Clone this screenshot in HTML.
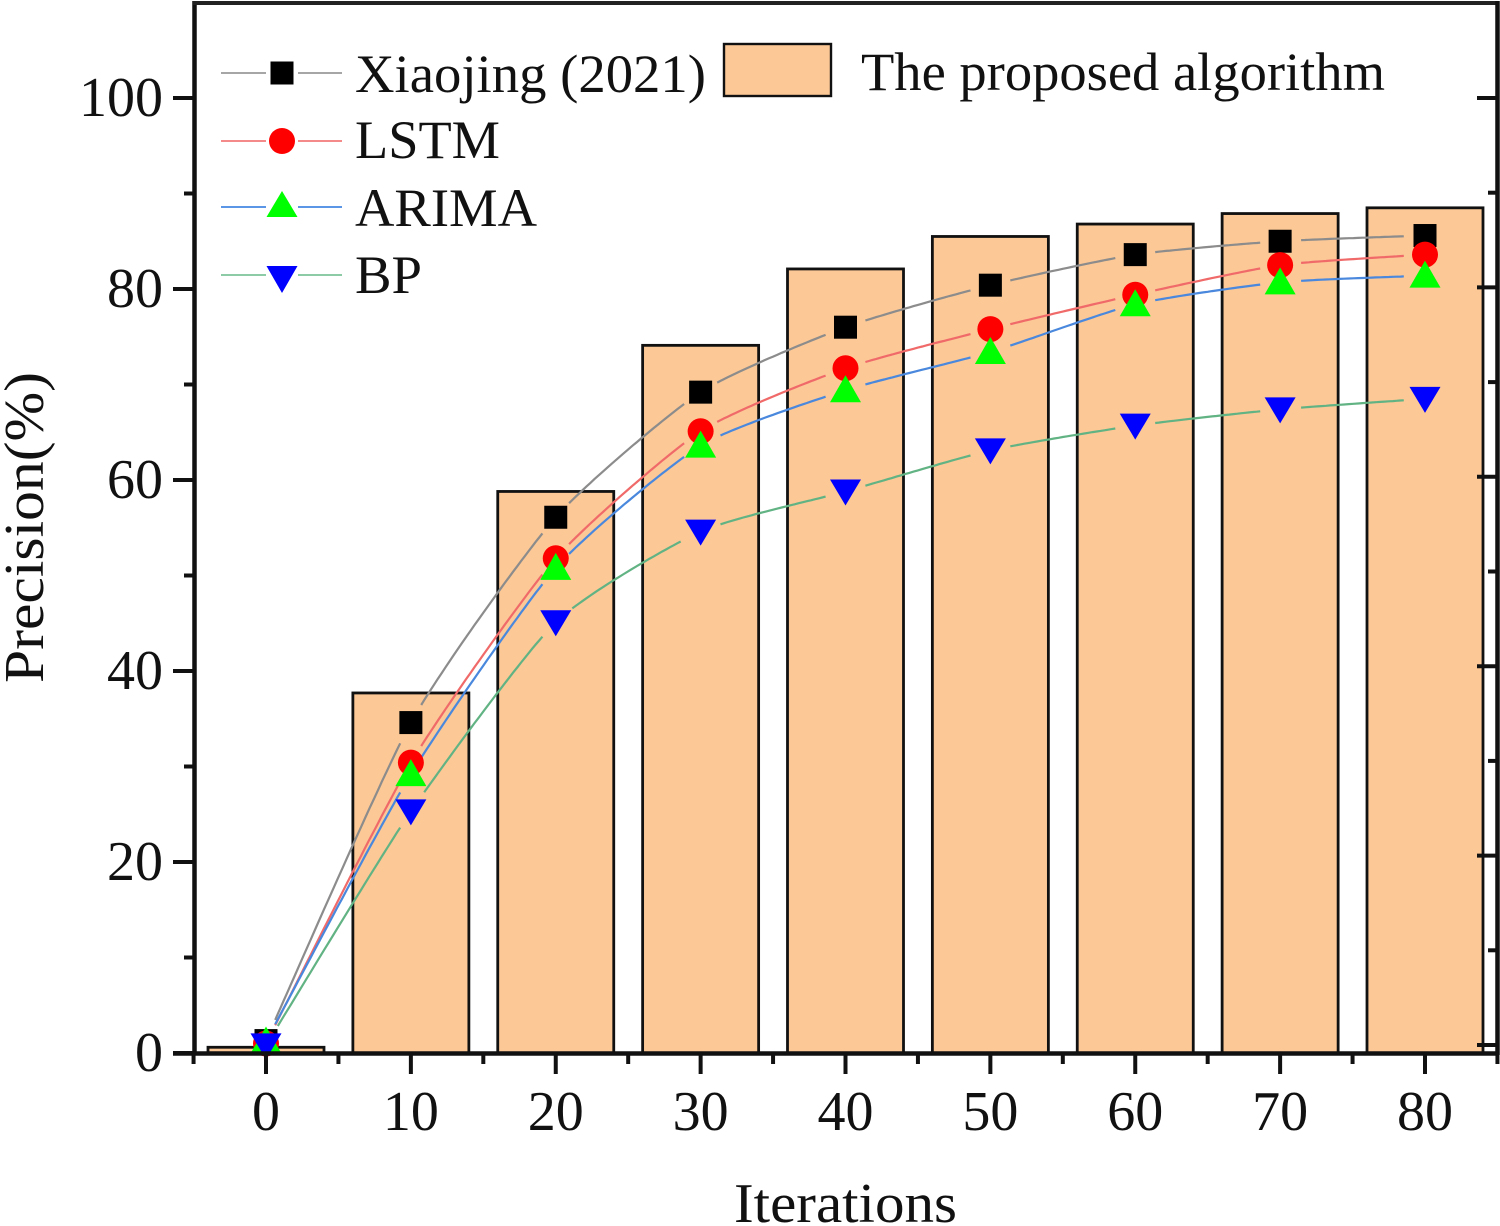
<!DOCTYPE html>
<html lang="en">
<head>
<meta charset="utf-8">
<title>Precision vs Iterations</title>
<style>
html,body{margin:0;padding:0;background:#fff;}
svg{display:block;}
text{font-family:"Liberation Serif","Times New Roman",serif;fill:#111;}
</style>
</head>
<body>
<svg id="chart" xmlns="http://www.w3.org/2000/svg" width="1500" height="1226" viewBox="0 0 1500 1226">
  <g id="bars"></g>
  <g id="lines"></g>
  <g id="markers"></g>
  <g id="axes"></g>
  <text x="734" y="1222" font-size="56" textLength="223" lengthAdjust="spacingAndGlyphs">Iterations</text>
  <text transform="translate(43,683) rotate(-90)" font-size="56" textLength="311" lengthAdjust="spacingAndGlyphs">Precision(%)</text>
  <g>
    <g>
      <path d="M221 73H266M298 73H342" stroke="#a6a6a6" stroke-width="2" fill="none"/>
      <rect x="270.500" y="61.500" width="23" height="23" fill="#000"/>
      <text x="355" y="92" font-size="54" textLength="351" lengthAdjust="spacingAndGlyphs">Xiaojing (2021)</text>
    </g>
    <g>
      <path d="M221 141H266M298 141H342" stroke="#f58a8a" stroke-width="2" fill="none"/>
      <circle cx="282" cy="141" r="13" fill="#ff0000"/>
      <text x="355" y="158" font-size="54" textLength="145" lengthAdjust="spacingAndGlyphs">LSTM</text>
    </g>
    <g>
      <path d="M221 207H266M298 207H342" stroke="#5b96e6" stroke-width="2" fill="none"/>
      <polygon points="282,191 297.500,217 266.500,217" fill="#00ff00"/>
      <text x="355" y="226" font-size="54" textLength="182" lengthAdjust="spacingAndGlyphs">ARIMA</text>
    </g>
    <g>
      <path d="M221 275H266M298 275H342" stroke="#8ccba6" stroke-width="2" fill="none"/>
      <polygon points="266.500,266 297.500,266 282,293" fill="#0000ff"/>
      <text x="355" y="293" font-size="54" textLength="67" lengthAdjust="spacingAndGlyphs">BP</text>
    </g>
    <g>
      <rect x="724" y="44" width="107" height="52" fill="#fcc896" stroke="#111" stroke-width="2.400"/>
      <text x="861" y="90" font-size="54" textLength="524" lengthAdjust="spacingAndGlyphs">The proposed algorithm</text>
    </g>
  </g>
</svg>
<script>
var iterations = [0, 10, 20, 30, 40, 50, 60, 70, 80];
var proposedValues = [0.6, 37.7, 58.8, 74.1, 82.1, 85.5, 86.8, 87.9, 88.5];
var xiaojingValues = [1.3, 34.6, 56.1, 69.2, 76.0, 80.4, 83.6, 85.0, 85.6];
var lstmValues = [1.0, 30.4, 51.8, 65.1, 71.7, 75.8, 79.4, 82.5, 83.6];
var arimaValues = [1.2, 29.2, 50.8, 63.6, 69.4, 73.4, 78.4, 80.7, 81.4];
var bpValues = [0.8, 25.3, 45.1, 54.6, 58.8, 63.1, 65.7, 67.4, 68.5];
var yMajorTicks = [0, 20, 40, 60, 80, 100];
var yMinorTicks = [10, 30, 50, 70, 90];
var xMajorTicks = [0, 10, 20, 30, 40, 50, 60, 70, 80];
var xMinorTicks = [-5, 5, 15, 25, 35, 45, 55, 65, 75, 85];
var rightMajorTicks = [0, 20, 40, 60, 80, 100];
var rightMinorTicks = [10, 30, 50, 70, 90];

var NS = 'http://www.w3.org/2000/svg';
function xScale(v) { return 266 + v * 14.4875; }
function yScale(v) { return 1053 - v * 9.55; }
function rightScale(v) { return 1045 - v * 9.47; }
function make(tag, parent, attrs) {
  var el = document.createElementNS(NS, tag);
  for (var k in attrs) { el.setAttribute(k, attrs[k]); }
  parent.appendChild(el);
  return el;
}

var barsG = document.getElementById('bars');
iterations.forEach(function (it, i) {
  var top = yScale(proposedValues[i]);
  var bar = make('rect', barsG, { x: xScale(it) - 58, y: top, width: 116, height: 1053 - top, fill: '#fcc896', stroke: '#111', 'stroke-width': 2.8 });
  
  
});

function splineSegments(pts) {
  var segs = [];
  for (var i = 0; i < pts.length - 1; i++) {
    var p0 = pts[Math.max(i - 1, 0)], p1 = pts[i], p2 = pts[i + 1], p3 = pts[Math.min(i + 2, pts.length - 1)];
    var c1 = [p1[0] + (p2[0] - p0[0]) / 10, p1[1] + (p2[1] - p0[1]) / 10];
    var c2 = [p2[0] - (p3[0] - p1[0]) / 10, p2[1] - (p3[1] - p1[1]) / 10];
    var seg = [];
    for (var s = 0; s <= 40; s++) {
      var t = s / 40, u = 1 - t;
      var x = u*u*u*p1[0] + 3*u*u*t*c1[0] + 3*u*t*t*c2[0] + t*t*t*p2[0];
      var y = u*u*u*p1[1] + 3*u*u*t*c1[1] + 3*u*t*t*c2[1] + t*t*t*p2[1];
      if (Math.hypot(x - p1[0], y - p1[1]) > 19 && Math.hypot(x - p2[0], y - p2[1]) > 19) {
        seg.push(x.toFixed(1) + ' ' + y.toFixed(1));
      }
    }
    if (seg.length > 1) { segs.push('M' + seg.join('L')); }
  }
  return segs.join('');
}

var linesG = document.getElementById('lines');
var markersG = document.getElementById('markers');
function drawLine(values, color) {
  var pts = iterations.map(function (it, i) { return [xScale(it), yScale(values[i])]; });
  return make('path', linesG, { d: splineSegments(pts), fill: 'none', stroke: color, 'stroke-width': 2.2 });
}

var xiaojingLine = drawLine(xiaojingValues, '#8c8c8c');


var lstmLine = drawLine(lstmValues, '#f06a6a');


var arimaLine = drawLine(arimaValues, '#4a88dd');


var bpLine = drawLine(bpValues, '#62b384');



iterations.forEach(function (it, i) {
  var x = xScale(it), y = yScale(xiaojingValues[i]);
  var m = make('rect', markersG, { x: x - 11.5, y: y - 11.5, width: 23, height: 23, fill: '#000' });
  
  
});
iterations.forEach(function (it, i) {
  var m = make('circle', markersG, { cx: xScale(it), cy: yScale(lstmValues[i]), r: 13, fill: '#ff0000' });
  
  
});
iterations.forEach(function (it, i) {
  var x = xScale(it), y = yScale(arimaValues[i]);
  var m = make('polygon', markersG, { points: x + ',' + (y - 15) + ' ' + (x + 15.5) + ',' + (y + 12) + ' ' + (x - 15.5) + ',' + (y + 12), fill: '#00ff00' });
  
  
});
iterations.forEach(function (it, i) {
  var x = xScale(it), y = yScale(bpValues[i]);
  var m = make('polygon', markersG, { points: (x - 15.5) + ',' + (y - 12) + ' ' + (x + 15.5) + ',' + (y - 12) + ' ' + x + ',' + (y + 14), fill: '#0000ff' });
  
  
});

var axesG = document.getElementById('axes');
var leftSpine = make('line', axesG, { x1: 194.5, y1: 1, x2: 194.5, y2: 1055, stroke: '#111', 'stroke-width': 4.5 });


var bottomSpine = make('line', axesG, { x1: 173, y1: 1053.5, x2: 1499, y2: 1053.5, stroke: '#111', 'stroke-width': 4.5 });


var topSpine = make('line', axesG, { x1: 193, y1: 3, x2: 1499, y2: 3, stroke: '#222', 'stroke-width': 4 });


var rightSpine = make('line', axesG, { x1: 1497.5, y1: 1, x2: 1497.5, y2: 1055, stroke: '#111', 'stroke-width': 4.5 });



yMajorTicks.forEach(function (v) {
  var t = make('line', axesG, { x1: 173, x2: 194, y1: yScale(v), y2: yScale(v), stroke: '#111', 'stroke-width': 4 });
  
  
  var l = make('text', axesG, { x: 163, y: yScale(v) + 18, 'font-size': 56, 'text-anchor': 'end' });
  l.textContent = v;
  
  
});
yMinorTicks.forEach(function (v) {
  var t = make('line', axesG, { x1: 184, x2: 194, y1: yScale(v), y2: yScale(v), stroke: '#111', 'stroke-width': 4 });
  
  
});
xMajorTicks.forEach(function (v) {
  var t = make('line', axesG, { x1: xScale(v), x2: xScale(v), y1: 1053, y2: 1074, stroke: '#111', 'stroke-width': 4 });
  
  
  var l = make('text', axesG, { x: xScale(v), y: 1130, 'font-size': 56, 'text-anchor': 'middle' });
  l.textContent = v;
  
  
});
xMinorTicks.forEach(function (v) {
  var t = make('line', axesG, { x1: xScale(v), x2: xScale(v), y1: 1053, y2: 1064, stroke: '#111', 'stroke-width': 4 });
  
  
});
rightMajorTicks.forEach(function (v) {
  var t = make('line', axesG, { x1: 1477, x2: 1497, y1: rightScale(v), y2: rightScale(v), stroke: '#111', 'stroke-width': 4 });
  
  
});
rightMinorTicks.forEach(function (v) {
  var t = make('line', axesG, { x1: 1488, x2: 1497, y1: rightScale(v), y2: rightScale(v), stroke: '#111', 'stroke-width': 4 });
  
  
});
</script>
</body>
</html>
